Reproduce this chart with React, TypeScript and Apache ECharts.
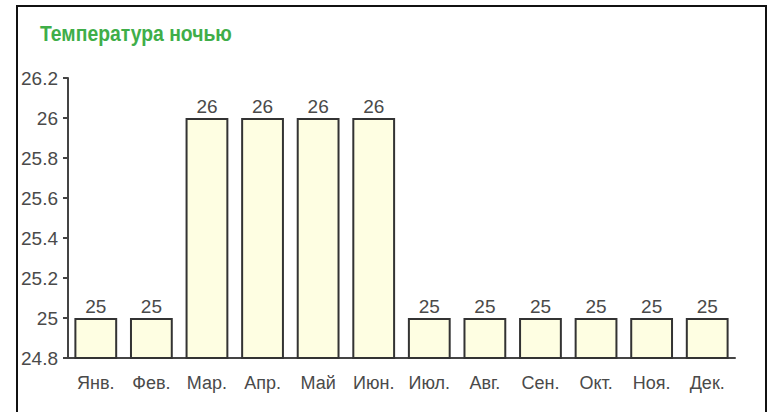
import React, { useEffect, useRef } from "react";
import * as echarts from "echarts";

const categories = ["Янв.", "Фев.", "Мар.", "Апр.", "Май", "Июн.", "Июл.", "Авг.", "Сен.", "Окт.", "Ноя.", "Дек."];
const nightTemps = [25, 25, 26, 26, 26, 26, 25, 25, 25, 25, 25, 25];
const yMin = 24.8;
const yMax = 26.2;
const yStep = 0.2;
const titleText = "Температура ночью";

const FONT = "'Liberation Sans', Arial, sans-serif";

export default function App() {
  const ref = useRef<HTMLDivElement>(null);
  useEffect(() => {
    if (!ref.current) return;
    const chart = echarts.init(ref.current, null, { renderer: "svg" });
    chart.setOption({
      animation: false,
      backgroundColor: "#ffffff",
      graphic: [
        {
          type: "rect",
          shape: { x: 17, y: 6, width: 749, height: 430 },
          style: { fill: "none", stroke: "#111", lineWidth: 2 },
          silent: true,
        },
        {
          type: "text",
          x: 40,
          y: 33,
          scaleX: 0.88,
          style: {
            text: titleText,
            fill: "#3fae49",
            fontSize: 22,
            fontWeight: "bold",
            fontFamily: FONT,
            textVerticalAlign: "middle",
            verticalAlign: "middle",
          },
          silent: true,
        },
      ],
      grid: { left: 68, right: 38, top: 78, bottom: 54 },
      xAxis: {
        type: "category",
        data: categories,
        axisLine: { lineStyle: { color: "#444", width: 2 } },
        axisTick: { alignWithLabel: true, length: 5, lineStyle: { color: "#444", width: 2 } },
        axisLabel: {
          color: "#4a4a4a",
          fontSize: 18,
          fontFamily: FONT,
          margin: 16,
          interval: 0,
          hideOverlap: false,
        },
      },
      yAxis: {
        type: "value",
        min: yMin,
        max: yMax,
        interval: yStep,
        splitLine: { show: false },
        axisLine: { show: true, lineStyle: { color: "#444", width: 2 } },
        axisTick: { show: true, length: 5, lineStyle: { color: "#444", width: 2 } },
        axisLabel: {
          color: "#4a4a4a",
          fontSize: 19,
          fontFamily: FONT,
          margin: 10,
          formatter: (v: number) => String(+v.toFixed(1)),
        },
      },
      series: [
        {
          type: "bar",
          data: nightTemps,
          barWidth: "77%",
          itemStyle: { color: "#fefee2", borderColor: "#333", borderWidth: 2 },
          label: {
            show: true,
            position: "top",
            distance: 2,
            color: "#4a4a4a",
            fontSize: 19,
            fontFamily: FONT,
          },
        },
      ],
    });
    return () => chart.dispose();
  }, []);
  return (
    <div
      ref={ref}
      style={{ position: "fixed", left: 0, top: 0, width: 773, height: 412 }}
    />
  );
}
